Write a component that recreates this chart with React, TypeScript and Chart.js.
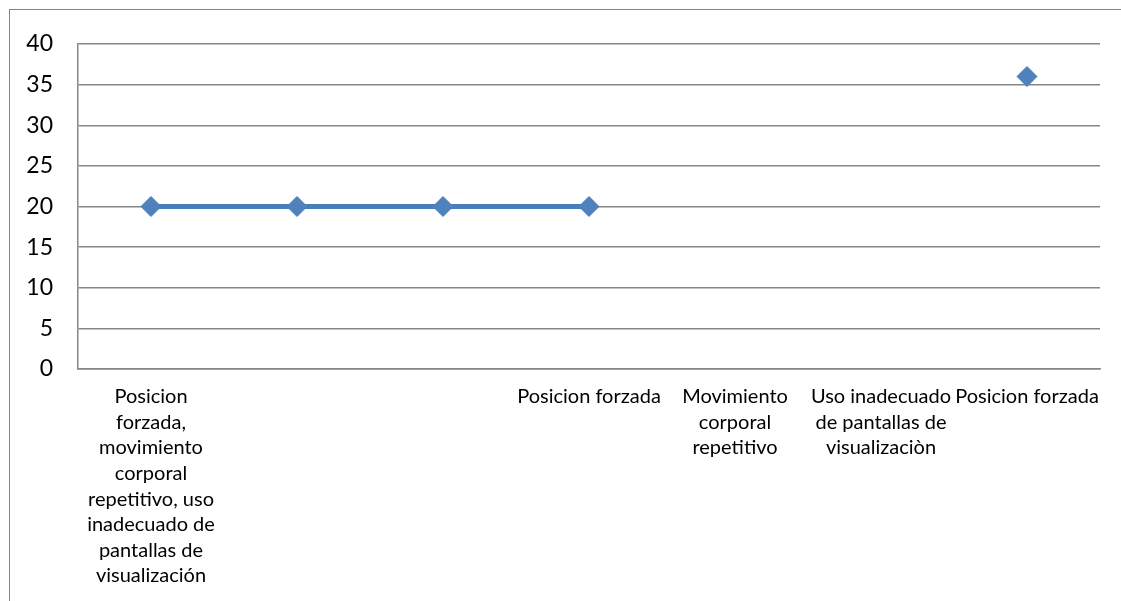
import React, { useEffect, useRef } from "react";
import { Chart, registerables } from "chart.js";

Chart.register(...registerables);

const categories: string[][] = [
  ["Posicion", "forzada,", "movimiento", "corporal", "repetitivo, uso", "inadecuado de", "pantallas de", "visualización"],
  [""],
  [""],
  ["Posicion forzada"],
  ["Movimiento", "corporal", "repetitivo"],
  ["Uso inadecuado", "de pantallas de", "visualizaciòn"],
  ["Posicion forzada"],
];

const seriesValues: (number | null)[] = [20, 20, 20, 20, null, null, 36];

const yTicks = { min: 0, max: 40, step: 5 };

export default function App() {
  const ref = useRef<HTMLCanvasElement | null>(null);

  useEffect(() => {
    if (!ref.current) return;
    const chart = new Chart(ref.current, {
      type: "line",
      data: {
        labels: categories,
        datasets: [
          {
            data: seriesValues,
            borderColor: "#4A7EBB",
            borderWidth: 5,
            backgroundColor: "#4F81BD",
            pointStyle: "rectRot",
            pointRadius: 10,
            pointBackgroundColor: "#4F81BD",
            pointBorderColor: "#4A7EBB",
            pointBorderWidth: 1,
            spanGaps: false,
            tension: 0,
          },
        ],
      },
      options: {
        animation: false,
        responsive: false,
        maintainAspectRatio: false,
        layout: { padding: { left: 0, top: 44, right: 21, bottom: 0 } },
        plugins: { legend: { display: false }, tooltip: { enabled: false } },
        scales: {
          x: {
            type: "category",
            offset: true,
            grid: { display: false, drawTicks: false },
            border: { display: true, color: "#868686", width: 1.5 },
            ticks: {
              autoSkip: false,
              maxRotation: 0,
              minRotation: 0,
              padding: 15,
              color: "#000000",
              font: { family: "Lato", size: 20, lineHeight: 1.28 },
            },
            afterFit: (scale: any) => {
              scale.height = 232;
            },
          },
          y: {
            min: yTicks.min,
            max: yTicks.max,
            grid: { color: "#868686", lineWidth: 1.5, drawTicks: false },
            border: { display: true, color: "#868686", width: 1.5 },
            ticks: {
              stepSize: yTicks.step,
              padding: 25,
              color: "#000000",
              font: { family: "Lato", size: 23 },
            },
            afterFit: (scale: any) => {
              scale.width = 78;
            },
          },
        },
      },
    });
    return () => chart.destroy();
  }, []);

  return (
    <div style={{ position: "fixed", left: 0, top: 0, width: 1121, height: 601, background: "#fff" }}>
      <canvas ref={ref} width={1121} height={601} style={{ position: "absolute", left: 0, top: 0 }} />
      <div
        style={{
          position: "absolute",
          left: 9,
          top: 9,
          right: 0,
          bottom: 0,
          borderTop: "1px solid #868686",
          borderLeft: "1px solid #868686",
          pointerEvents: "none",
        }}
      />
    </div>
  );
}
